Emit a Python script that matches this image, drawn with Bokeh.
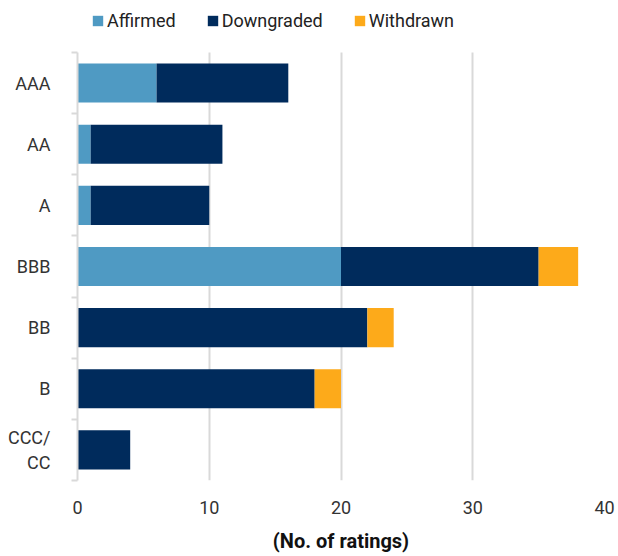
from bokeh.plotting import figure
from bokeh.models import ColumnDataSource, FixedTicker, Legend, LegendItem, Range1d
from bokeh.embed import file_html
from bokeh.resources import INLINE

categories = ["AAA", "AA", "A", "BBB", "BB", "B", "CCC/\nCC"]
affirmed = [6, 1, 1, 20, 0, 0, 0]
downgraded = [10, 10, 9, 15, 22, 18, 4]
withdrawn = [0, 0, 0, 3, 2, 2, 0]
x_ticks = [0, 10, 20, 30, 40]

series = ["affirmed", "downgraded", "withdrawn"]
names = ["Affirmed", "Downgraded", "Withdrawn"]
colors = ["#4F9AC3", "#002B5C", "#FDAA1A"]

n = len(categories)
ypos = [n - i - 0.5 for i in range(n)]
src = ColumnDataSource(dict(y=ypos, affirmed=affirmed, downgraded=downgraded, withdrawn=withdrawn))

FONT = "Roboto"
p = figure(width=618, height=556, output_backend="svg", toolbar_location=None,
           x_range=Range1d(0, 40), y_range=Range1d(0, n + 0.85),
           min_border_left=77, min_border_right=14, min_border_top=0, min_border_bottom=76)
p.outline_line_color = None

renderers = p.hbar_stack(series, y="y", height=0.64, color=colors, source=src, line_color=None)

# x axis
p.xaxis.ticker = FixedTicker(ticks=x_ticks)
p.xaxis.axis_line_color = None
p.xaxis.major_tick_line_color = None
p.xaxis.major_tick_out = 0
p.xaxis.minor_tick_line_color = None
p.xaxis.major_label_text_font = FONT
p.xaxis.major_label_text_font_size = "18px"
p.xaxis.major_label_text_color = "#333333"
p.xaxis.major_label_standoff = 20
p.xaxis.axis_label = "(No. of ratings)"
p.xaxis.axis_label_text_font = FONT
p.xaxis.axis_label_text_font_size = "20px"
p.xaxis.axis_label_text_font_style = "bold"
p.xaxis.axis_label_text_color = "#111111"
p.xaxis.axis_label_standoff = 12

# y axis
p.yaxis.ticker = FixedTicker(ticks=ypos, minor_ticks=list(range(n + 1)))
p.yaxis.major_label_overrides = {y: c for y, c in zip(ypos, categories)}
p.yaxis.bounds = (0, n)
p.yaxis.axis_line_color = "#d9d9d9"
p.yaxis.axis_line_width = 2
p.yaxis.major_tick_line_color = None
p.yaxis.major_tick_out = 0
p.yaxis.minor_tick_line_color = "#d9d9d9"
p.yaxis.minor_tick_line_width = 2
p.yaxis.minor_tick_out = 6
p.yaxis.minor_tick_in = 0
p.yaxis.major_label_text_font = FONT
p.yaxis.major_label_text_font_size = "18px"
p.yaxis.major_label_text_color = "#333333"
p.yaxis.major_label_standoff = 21

p.ygrid.grid_line_color = None
p.xgrid.ticker = FixedTicker(ticks=x_ticks[1:])
p.xgrid.cross_bounds = (0, n)
p.xgrid.grid_line_color = "#d9d9d9"
p.xgrid.grid_line_width = 2

legend = Legend(items=[LegendItem(label=nm, renderers=[r]) for nm, r in zip(names, renderers)],
                orientation="horizontal", location=(14, 449),
                label_text_font=FONT, label_text_font_size="18px", label_text_color="#222222",
                glyph_width=13, glyph_height=13, label_standoff=3, spacing=30,
                border_line_color=None, background_fill_alpha=0, padding=0, margin=0)
p.add_layout(legend, "center")

open("out.html", "w").write(file_html(p, INLINE))
